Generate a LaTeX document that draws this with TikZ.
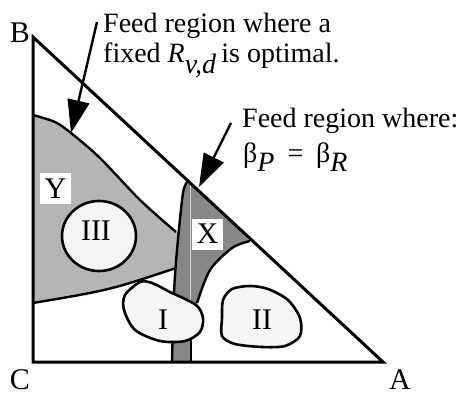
\documentclass[tikz,border=0pt]{standalone}
\usepackage{fontspec}
\setmainfont{Liberation Serif}
\usetikzlibrary{arrows.meta}
\definecolor{lightg}{gray}{0.71}
\definecolor{darkg}{gray}{0.53}
\definecolor{lobefill}{gray}{0.96}
\begin{document}
\begin{tikzpicture}[x=1pt,y=-1pt,
  txt/.style={font=\fontsize{28}{30}\selectfont, inner sep=0pt},
  big/.style={font=\fontsize{30}{32}\selectfont, inner sep=0pt},
  box/.style={fill=white, minimum width=31pt, minimum height=31pt, inner sep=0pt, font=\fontsize{30}{32}\selectfont},
  lobe/.style={draw=black, line width=2.6pt, fill=lobefill},
  edge/.style={line width=3pt},
  bnd/.style={line width=2.4pt},
  pointer/.style={line width=2.4pt, -{Triangle[length=33pt,width=22pt]}}]
\useasboundingbox (0,0) rectangle (465,396);

% corners
\coordinate (B) at (33,37);
\coordinate (C) at (33,362);
\coordinate (A) at (383,362);

% region Y (light gray)
\fill[lightg] plot[smooth] coordinates {(33,115) (55,122) (71,133) (100,158) (140,200) (176,232)}
  -- (182,232) -- (180,268) -- (176,268) .. controls (110,290) .. (33,303) -- cycle;

% region X and strip (dark gray)
\fill[darkg] (188,181) -- plot[smooth] coordinates {(250,241) (232,248) (210,270) (197,303)}
  -- (191,330) -- (191,362) -- (172,362)
  -- plot[smooth] coordinates {(172,362) (174,293) (177,250) (183,193) (188,181)} -- cycle;
\draw[gray!40, line width=0.8pt] (190,184) -- (190,345);

% boundaries
\draw[bnd] plot[smooth] coordinates {(188,181) (183,193) (177,250) (174,293) (172,362)};
\draw[bnd] plot[smooth] coordinates {(250,241) (232,248) (210,270) (197,303)};
\draw[bnd] (191,335) -- (191,362);
\draw[bnd] plot[smooth] coordinates {(33,115) (55,122) (71,133) (100,158) (140,200) (176,232)};
\draw[bnd] (33,303) .. controls (110,290) .. (176,268);

% lobes
\draw[lobe] plot[smooth cycle] coordinates {(140,282) (125,295) (124,310) (135,330) (160,341) (185,341) (200,332) (203,318) (196,305) (170,292) (152,283)};
\draw[lobe] plot[smooth cycle] coordinates {(223,300) (232,289) (250,286) (268,289) (288,300) (300,318) (300,336) (285,346) (262,347) (235,344) (222,336) (222,318)};
\draw[lobe] (99,236) ellipse [x radius=37pt, y radius=35pt];
\node[big] (lI) at (163,320) {I};
\node[big] (lII) at (262,320) {II};
\node[big] (lIII) at (96,231) {III};

% label boxes
\node[box] (Y) at (55.5,188.5) {Y};
\node[box] (X) at (207.5,234) {X};

% triangle
\draw[edge, line join=miter] (B) -- (C) -- (A) -- cycle;

% corner labels
\node[big] (lB) at (20,33) {B};
\node[big] (lC) at (20,380) {C};
\node[big] (lA) at (400,380) {A};

% annotations
\node[txt, anchor=base west] (t1) at (103,33) {Feed region where a};
\node[txt, anchor=base west] (t2) at (103,63) {fixed \textit{R}$_{\textit{v,d}}$\,is optimal.};
\node[txt, anchor=base west] (t3) at (242,127) {Feed region where:};
\node[txt, anchor=base west] (t4) at (243,162) {β$_{\textit{P}}$\hspace{0.45em}=\hspace{0.45em}β$_{\textit{R}}$};

\coordinate (a1s) at (97,22);
\coordinate (a1t) at (71,133);
\coordinate (a2s) at (231,123);
\coordinate (a2t) at (199,187);
\draw[pointer] (a1s) -- (a1t);
\draw[pointer] (a2s) -- (a2t);
\end{tikzpicture}
\end{document}
